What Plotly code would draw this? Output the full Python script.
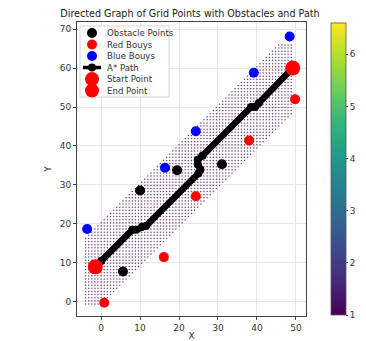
import numpy as np
import plotly.graph_objects as go

# ---- data ----
obstacle_x = [5.6, 10.0, 19.5, 31.0]
obstacle_y = [7.8, 28.6, 33.8, 35.3]

red_x = [0.8, 16.1, 24.3, 38.0, 49.8]
red_y = [-0.2, 11.5, 27.1, 41.4, 52.0]

blue_x = [-3.6, 16.4, 24.3, 39.2, 48.4]
blue_y = [18.7, 34.4, 43.8, 58.8, 68.1]

path_x = [-1.5, 0.0, 8.0, 9.0, 10.5, 11.5, 25.0, 25.5, 24.8, 24.8, 26.0, 38.5, 39.5, 40.5, 49.2]
path_y = [9.0, 10.5, 18.5, 18.5, 19.3, 19.5, 33.0, 34.0, 35.3, 36.5, 37.5, 50.0, 50.0, 51.0, 60.0]

start_pt = (-1.5, 9.0)
end_pt = (49.2, 60.0)

legend_labels = ["Obstacle Points", "Red Bouys", "Blue Bouys", "A* Path", "Start Point", "End Point"]
colorbar_label = "Weight (Exponential)"

# grid node bounds (band of grid points around start-end line)
grid_x_range = (-4, 49)
grid_y_range = (-0.5, 66.5)
band_low, band_high = -0.5, 21.0
grid_step = 0.8

gx, gy = np.meshgrid(np.arange(grid_x_range[0], grid_x_range[1] + 0.01, grid_step),
                     np.arange(grid_y_range[0], grid_y_range[1] + 0.01, grid_step))
gx = gx.ravel(); gy = gy.ravel()
keep = ((gy - gx) >= band_low) & ((gy - gx) <= band_high)
gx = gx[keep]; gy = gy[keep]
weights = [1.0] * len(gx)

# page has an 8px body margin; lay out in page pixels, then shift
OFF = 8
W, H = 366 - OFF, 341 - OFF
L, R, T, B = 77 - OFF, 306 - OFF, 22 - OFF, 316 - OFF


def px(xp):  # page pixel x -> paper
    return (xp - OFF - L) / (R - L)


def py(yp):  # page pixel y -> paper
    return (B - (yp - OFF)) / (B - T)


fig = go.Figure()

fig.add_trace(go.Scatter(
    x=gx, y=gy, mode="markers", showlegend=False, hoverinfo="skip",
    marker=dict(size=1.5, color=weights, colorscale="Viridis", cmin=1, cmax=6.6,
                opacity=0.75, line=dict(width=0),
                colorbar=dict(
                    x=px(331), xanchor="left", xpad=0, ypad=0,
                    y=py(169), yanchor="middle", len=(315 - 23) / 294,
                    thickness=15, outlinewidth=0.8, outlinecolor="#555",
                    tickvals=[1, 2, 3, 4, 5, 6], ticks="outside", ticklen=2,
                    tickfont=dict(size=9, color="#333"),
                    title=dict(text=colorbar_label, side="right",
                               font=dict(size=8.2, color="#333")),
                )),
))

fig.add_trace(go.Scatter(x=obstacle_x, y=obstacle_y, mode="markers", name=legend_labels[0],
                         showlegend=False, marker=dict(size=10, color="black")))
fig.add_trace(go.Scatter(x=red_x, y=red_y, mode="markers", name=legend_labels[1],
                         showlegend=False, marker=dict(size=10, color="red")))
fig.add_trace(go.Scatter(x=blue_x, y=blue_y, mode="markers", name=legend_labels[2],
                         showlegend=False, marker=dict(size=10, color="blue")))
fig.add_trace(go.Scatter(x=path_x, y=path_y, mode="lines+markers", name=legend_labels[3],
                         showlegend=False, line=dict(color="black", width=6.5),
                         marker=dict(size=8, color="black")))
fig.add_trace(go.Scatter(x=[start_pt[0]], y=[start_pt[1]], mode="markers", name=legend_labels[4],
                         showlegend=False, marker=dict(size=15, color="red")))
fig.add_trace(go.Scatter(x=[end_pt[0]], y=[end_pt[1]], mode="markers", name=legend_labels[5],
                         showlegend=False, marker=dict(size=15, color="red")))

# ---- manual legend (matplotlib-like compact spacing) ----
shapes = []
annotations = []
shapes.append(dict(type="rect", xref="paper", yref="paper",
                   x0=px(80), x1=px(169), y0=py(97), y1=py(26),
                   line=dict(color="#cccccc", width=0.8), fillcolor="rgba(255,255,255,0.85)",
                   layer="above"))
legend_colors = ["black", "red", "blue", "black", "red", "red"]
legend_sizes = [5, 5, 5, 4, 7, 7]
row_y = [33, 44.5, 56, 67.5, 79, 90.5]
sym_x = 92
for i, lab in enumerate(legend_labels):
    yy = row_y[i]
    if i == 3:
        shapes.append(dict(type="line", xref="paper", yref="paper",
                           x0=px(83), x1=px(101), y0=py(yy), y1=py(yy),
                           line=dict(color="black", width=3.5), layer="above"))
    r = legend_sizes[i]
    shapes.append(dict(type="circle", xref="paper", yref="paper",
                       xsizemode="pixel", ysizemode="pixel",
                       xanchor=px(sym_x), yanchor=py(yy),
                       x0=-r, x1=r, y0=-r, y1=r,
                       fillcolor=legend_colors[i], line=dict(width=0), layer="above"))
    annotations.append(dict(xref="paper", yref="paper", x=px(105), y=py(yy),
                            xanchor="left", yanchor="middle", showarrow=False,
                            text=lab, font=dict(size=8.6, color="#333")))

axis_common = dict(showline=True, mirror=True, linecolor="#444", linewidth=0.8,
                   ticks="outside", ticklen=3, tickcolor="#444",
                   tickfont=dict(size=9, color="#333"),
                   showgrid=True, gridcolor="#e6e6e6", gridwidth=0.6, zeroline=False)

fig.update_layout(
    width=W, height=H,
    margin=dict(l=L, r=W - R, t=T, b=H - B, autoexpand=False),
    paper_bgcolor="white", plot_bgcolor="white",
    font=dict(family="DejaVu Sans", size=9, color="#333"),
    showlegend=False,
    title=dict(text="Directed Graph of Grid Points with Obstacles and Path",
               x=(190 - OFF) / W, xanchor="center", y=1 - (14 - OFF) / H, yanchor="middle",
               yref="container", xref="container", font=dict(size=9.6, color="#222")),
    xaxis=dict(range=[-6.2, 52.6], tickvals=[0, 10, 20, 30, 40, 50],
               title=dict(text="X", standoff=2, font=dict(size=9)), **axis_common),
    yaxis=dict(range=[-3.6, 71.8], tickvals=[0, 10, 20, 30, 40, 50, 60, 70],
               title=dict(text="Y", standoff=6, font=dict(size=9)), **axis_common),
    shapes=shapes,
    annotations=annotations,
)

fig.write_html("out.html")
